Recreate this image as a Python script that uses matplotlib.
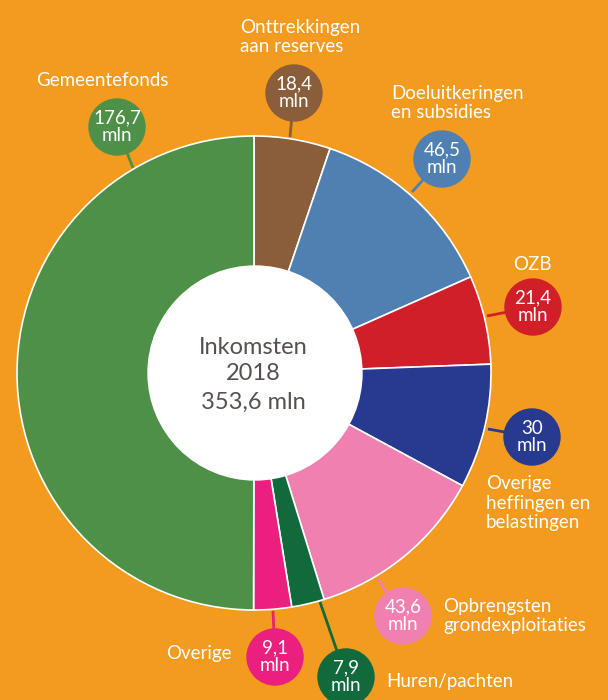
import matplotlib.pyplot as plt

# Inkomsten 2018, clockwise from the top
labels = ['Onttrekkingen\naan reserves', 'Doeluitkeringen\nen subsidies', 'OZB',
          'Overige\nheffingen en\nbelastingen', 'Opbrengsten\ngrondexploitaties',
          'Huren/pachten', 'Overige', 'Gemeentefonds']
values = [18.4, 46.5, 21.4, 30, 43.6, 7.9, 9.1, 176.7]
colors = ['#8a5d3b', '#5080b2', '#d11f29', '#283a8f', '#ef80b0',
          '#106a3b', '#ea1f7e', '#4f9048']
total_txt = '353,6 mln'

bg = '#f29b1f'
plt.rcParams['font.family'] = ['Lato', 'DejaVu Sans']

fig = plt.figure(figsize=(6.08, 7), dpi=100)
fig.patch.set_facecolor(bg)
ax = fig.add_axes([0, 0, 1, 1])
ax.set_facecolor(bg)

cx, cy, R, r_in = 254, 373, 237, 107
# y axis runs downwards, so counterclockwise here reads clockwise on screen
ax.pie(values, colors=colors, center=(cx, cy), radius=R, startangle=-90,
       counterclock=True,
       wedgeprops=dict(edgecolor='white', linewidth=1.2))
ax.add_patch(plt.Circle((cx + 1, cy), r_in, color='white', zorder=3))

ax.set_xlim(0, 608)
ax.set_ylim(700, 0)
ax.axis('off')

ax.text(cx - 1, cy - 26, 'Inkomsten', ha='center', va='center', fontsize=17, color='#57504d', zorder=4)
ax.text(cx - 1, cy + 1, '2018', ha='center', va='center', fontsize=17, color='#57504d', zorder=4)
ax.text(cx - 1, cy + 29, total_txt, ha='center', va='center', fontsize=17, color='#57504d', zorder=4)

# bubble centre, point on pie edge, text position, alignment
bubbles = [(294, 93), (442, 159), (533, 307), (532, 437), (403, 616),
           (346, 677), (275, 657), (117, 127)]
anchors = [(290, 137), (412, 192), (487, 316), (488, 429), (378, 579),
           (320, 602), (273, 611), (133, 168)]
text_pos = [(240, 37, 'left'), (391, 103, 'left'), (532, 265, 'center'),
            (486, 503, 'left'), (443, 616, 'left'), (386, 682, 'left'),
            (232, 654, 'right'), (36, 81, 'left')]

for v, c, lab, (bx, by), (axx, ayy), (tx, ty, ha) in zip(values, colors, labels,
                                                         bubbles, anchors, text_pos):
    ax.plot([axx, bx], [ayy, by], color=c, lw=2, zorder=5, solid_capstyle='butt')
    ax.add_patch(plt.Circle((bx, by), 28, color=c, zorder=6))
    num = ('%g' % v).replace('.', ',')
    ax.text(bx, by, num + '\nmln', ha='center', va='center', fontsize=13.5,
            color='white', linespacing=1.02, zorder=7)
    ax.text(tx, ty, lab, ha=ha, va='center', fontsize=13.5, color='white',
            linespacing=1.15, zorder=7)

fig.savefig('out.png', dpi=100, facecolor=bg)
